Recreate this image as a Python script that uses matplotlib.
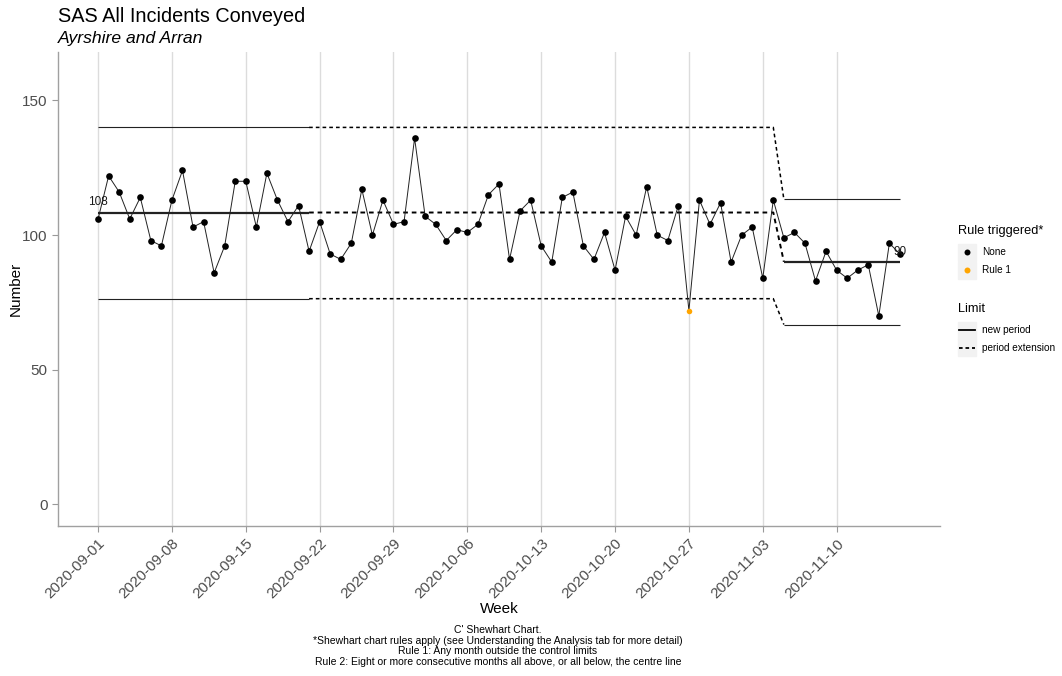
import matplotlib
matplotlib.use('Agg')
import matplotlib.pyplot as plt
from matplotlib.patches import Rectangle
from matplotlib.lines import Line2D
import numpy as np
import pandas as pd

matplotlib.rcParams['font.family'] = ['Liberation Sans', 'DejaVu Sans']

# data: daily counts from 2020-09-01
start_date = '2020-09-01'
counts = [106, 122, 116, 106, 114, 98, 96, 113, 124, 103, 105, 86, 96, 120,
          120, 103, 123, 113, 105, 111, 94, 105, 93, 91, 97, 117, 100, 113,
          104, 105, 136, 107, 104, 98, 102, 101, 104, 115, 119, 91, 109, 113,
          96, 90, 114, 116, 96, 91, 101, 87, 107, 100, 118, 100, 98, 111,
          72, 113, 104, 112, 90, 100, 103, 84, 113, 99, 101, 97, 83, 94,
          87, 84, 87, 89, 70, 97, 93]
rule_triggered = ['None'] * len(counts)
rule_triggered[56] = 'Rule 1'

# limits per period
period_start = [0, 65]
period_calc_end = [20, 76]
centre = [108.4, 90.1]
upper = [140.0, 113.3]
lower = [76.4, 66.8]
centre_labels = ['108', '90']

title = 'SAS All Incidents Conveyed'
subtitle = 'Ayrshire and Arran'
caption = ("C' Shewhart Chart.\n"
           "*Shewhart chart rules apply (see Understanding the Analysis tab for more detail)\n"
           "Rule 1: Any month outside the control limits\n"
           "Rule 2: Eight or more consecutive months all above, or all below, the centre line")

COLORS = {'None': 'black', 'Rule 1': '#FFA500'}

W, H = 1062, 676
dates = pd.date_range(start_date, periods=len(counts), freq='D')
counts = np.array(counts)


def fx(px):
    return px / W


def fy(py):
    return 1 - py / H


fig = plt.figure(figsize=(W / 100, H / 100), dpi=100)
ax = fig.add_axes([fx(58), fy(526), fx(940) - fx(58), fy(52) - fy(526)])

# limit lines
for limits, lw_solid, lw_dash in [(centre, 1.6, 1.4), (upper, 0.8, 1.1), (lower, 0.8, 1.1)]:
    # first period (calculated)
    s, e = period_start[0], period_calc_end[0]
    ax.plot(dates[s:e + 1], [limits[0]] * (e - s + 1), color='#222222', lw=lw_solid,
            solid_capstyle='butt', zorder=2)
    # extension of first period until the new period starts
    ext_x = list(dates[e:period_start[1]]) + [dates[period_start[1]]]
    ext_y = [limits[0]] * (period_start[1] - e) + [limits[1]]
    ax.plot(ext_x, ext_y, color='black', lw=lw_dash, linestyle=(0, (2.4, 2.0)), zorder=2)
    # second period
    s, e = period_start[1], period_calc_end[1]
    ax.plot(dates[s:e + 1], [limits[1]] * (e - s + 1), color='#222222', lw=lw_solid,
            solid_capstyle='butt', zorder=2)

# data line and points
ax.plot(dates, counts, color='#222222', lw=0.7, zorder=3)
for rule, col in COLORS.items():
    mask = np.array([r == rule for r in rule_triggered])
    ax.plot(dates[mask], counts[mask], 'o', color=col, markersize=4.8 if rule == 'None' else 4.0,
            markeredgewidth=0, zorder=4)

# centre line labels
label_idx = [period_start[0], period_calc_end[1]]
for i, (idx, lab) in enumerate(zip(label_idx, centre_labels)):
    ax.annotate(lab, (dates[idx], centre[i]), xytext=(0, 3), textcoords='offset points',
                ha='center', va='bottom', fontsize=8.5, color='#1a1a1a', zorder=5)

# axes styling
ax.set_xlim(dates[0] - pd.Timedelta(days=3.8), dates[-1] + pd.Timedelta(days=3.8))
ax.set_ylim(-8, 168)
ax.set_yticks([0, 50, 100, 150])
ticks = pd.date_range(start_date, dates[-1], freq='7D')
ax.set_xticks(ticks)
ax.set_xticklabels([t.strftime('%Y-%m-%d') for t in ticks], rotation=45, ha='right',
                   va='top', rotation_mode='anchor')
ax.tick_params(axis='both', colors='#999999', labelcolor='#4D4D4D', labelsize=11,
               length=4, width=0.8)
ax.grid(axis='x', color='#DCDCDC', lw=1.0, zorder=0)
ax.set_axisbelow(True)
for side in ['top', 'right']:
    ax.spines[side].set_visible(False)
for side in ['left', 'bottom']:
    ax.spines[side].set_color('#A0A0A0')
    ax.spines[side].set_linewidth(1.0)

fig.text(fx(16), fy(289), 'Number', ha='center', va='center', rotation=90, fontsize=11)
fig.text(fx(499), fy(609), 'Week', ha='center', va='center', fontsize=11)
fig.text(fx(498), fy(646), caption, ha='center', va='center', fontsize=7.5,
         linespacing=1.12)

fig.text(fx(58), fy(17), title, ha='left', va='center', fontsize=14.3)
fig.text(fx(58), fy(39), subtitle, ha='left', va='center', fontsize=12.6, style='italic')

# legends (drawn by hand to get the grey key boxes)
key_bg = '#F2F2F2'
fig.text(fx(958), fy(231), 'Rule triggered*', ha='left', va='center', fontsize=9.2)
for yc, rule in zip([252, 270], ['None', 'Rule 1']):
    fig.patches.append(Rectangle((fx(958), fy(yc + 8.5)), fx(18), 17 / H,
                                 transform=fig.transFigure, color=key_bg, zorder=0))
    fig.lines.append(Line2D([fx(967)], [fy(yc)], marker='o', markersize=4.3,
                            markeredgewidth=0, color=COLORS[rule],
                            transform=fig.transFigure))
    fig.text(fx(982), fy(yc), rule, ha='left', va='center', fontsize=7.2)

fig.text(fx(958), fy(309), 'Limit', ha='left', va='center', fontsize=9.2)
for yc, lab, ls in zip([330, 348], ['new period', 'period extension'],
                       ['-', (0, (2.0, 1.6))]):
    fig.patches.append(Rectangle((fx(958), fy(yc + 8.5)), fx(18), 17 / H,
                                 transform=fig.transFigure, color=key_bg, zorder=0))
    fig.lines.append(Line2D([fx(959), fx(975)], [fy(yc), fy(yc)], color='black',
                            lw=1.3, linestyle=ls, transform=fig.transFigure))
    fig.text(fx(982), fy(yc), lab, ha='left', va='center', fontsize=7.2)

fig.savefig('out.png', dpi=100)
